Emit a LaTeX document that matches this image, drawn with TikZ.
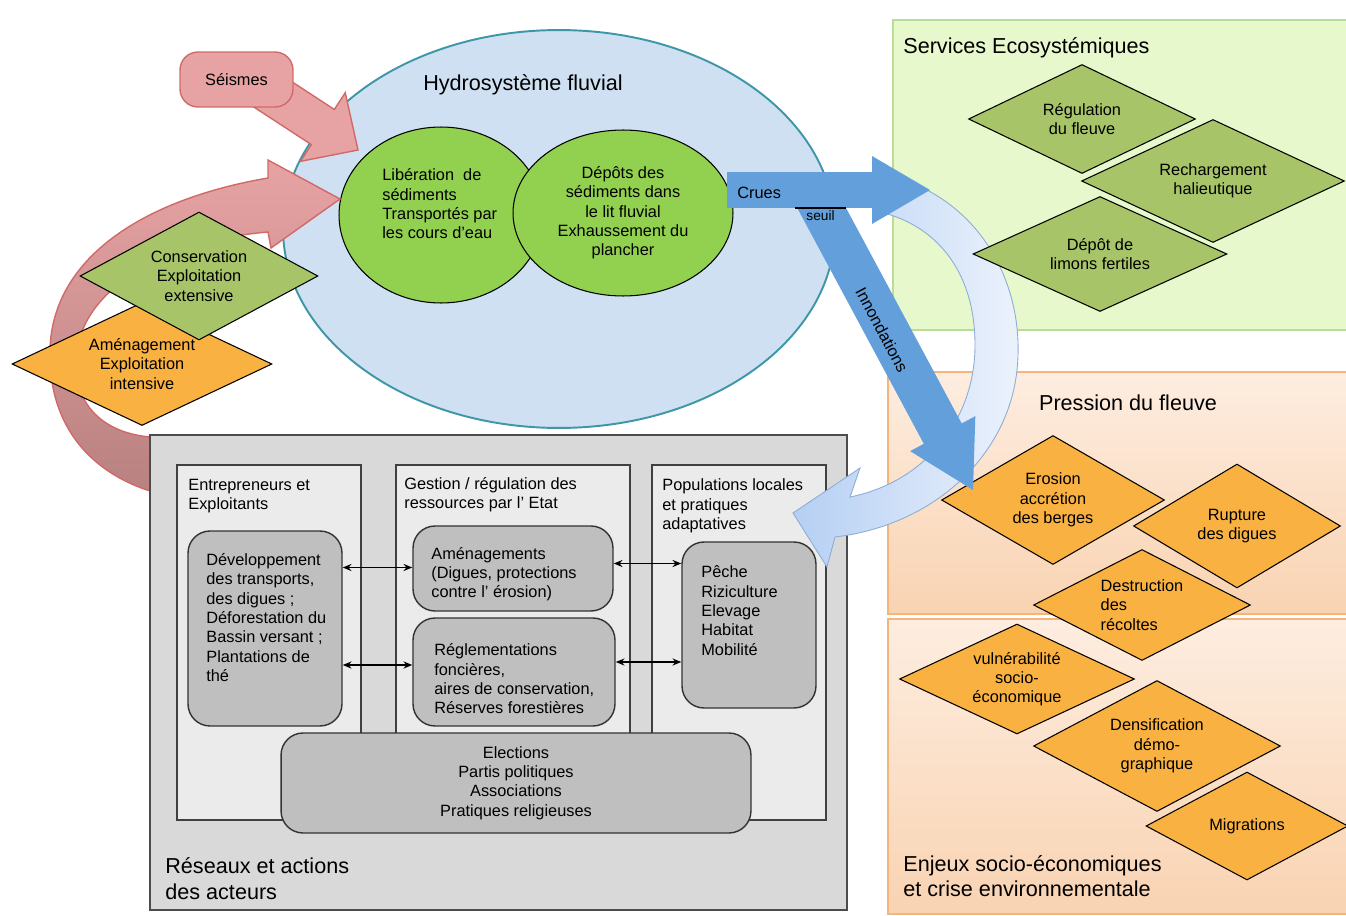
\documentclass[tikz,border=0pt]{standalone}
\usepackage{fontspec}
\setmainfont{Liberation Sans}
\usetikzlibrary{calc, shapes.geometric, arrows.meta}

\definecolor{hydroFill}{HTML}{CFE0F2}
\definecolor{hydroLine}{HTML}{3E97A8}
\definecolor{sedGreen}{HTML}{92D050}
\definecolor{servGreen}{HTML}{A7C468}
\definecolor{servPanel}{HTML}{E6F8CC}
\definecolor{servLine}{HTML}{BBDC96}
\definecolor{pressOrange}{HTML}{F9B142}
\definecolor{pressTop}{HTML}{FDEDE0}
\definecolor{pressBot}{HTML}{F9D3B2}
\definecolor{pressLine}{HTML}{F5B57A}
\definecolor{redFill}{HTML}{E7A3A3}
\definecolor{redDark}{HTML}{B98181}
\definecolor{redLine}{HTML}{D26969}
\definecolor{crueBlue}{HTML}{629FDB}
\definecolor{bandLeft}{HTML}{B5CFF3}
\definecolor{bandRight}{HTML}{EDF3FC}
\definecolor{bandLine}{HTML}{8DACD6}
\definecolor{acteurGray}{HTML}{D9D9D9}
\definecolor{colGray}{HTML}{EBEBEB}
\definecolor{pillGray}{HTML}{BFBFBF}

% block arrow: [style]{from}{to}{half shaft}{half head}{head length}
\newcommand{\FatArrow}[6][]{%
    \coordinate (fat-base) at ($(#3)!#6!(#2)$);
    \path[#1] ($(#2)!#4!90:(#3)$) -- ($(fat-base)!#4!90:(#3)$)
        -- ($(fat-base)!#5!90:(#3)$) -- (#3)
        -- ($(fat-base)!#5!-90:(#3)$) -- ($(fat-base)!#4!-90:(#3)$)
        -- ($(#2)!#4!-90:(#3)$) -- cycle;
}

\tikzset{
    txt/.style={font=\fontsize{9.3}{11}\selectfont, inner sep=0pt},
    ttl/.style={font=\fontsize{12.3}{14.5}\selectfont, inner sep=0pt},
    losange/.style={diamond, aspect=2, draw=black, line width=0.6pt, inner sep=0pt, txt, align=center},
    sedim/.style={ellipse, draw=black, fill=sedGreen, line width=0.6pt, inner sep=0pt, txt},
    panel/.style={draw, line width=0.8pt, inner sep=0pt},
    colonne/.style={draw=black!75, fill=colGray, line width=0.8pt, inner sep=0pt},
    pill/.style={draw=black!80, fill=pillGray, rounded corners=0.44cm, line width=0.8pt, inner sep=0pt},
    lien/.style={{Stealth[length=5pt,width=4pt]}-{Stealth[length=5pt,width=4pt]}, line width=1.1pt},
    redarrow/.style={fill=redFill, draw=redLine, line width=0.8pt},
    crue/.style={fill=crueBlue},
}

\begin{document}
\begin{tikzpicture}[x=0.02cm, y=-0.02cm]
    \useasboundingbox (0,0) rectangle (1346,916);

    % panneaux de droite
    \node[panel, draw=servLine, fill=servPanel, minimum width=9.18cm, minimum height=6.2cm] (serv) at (1122.5,175) {};
    \node[panel, draw=pressLine, top color=pressTop, bottom color=pressBot, minimum width=9.28cm, minimum height=4.84cm] (press) at (1120,493) {};
    \node[panel, draw=pressLine, top color=pressTop, bottom color=pressBot, minimum width=9.28cm, minimum height=5.9cm] (enjeu) at (1120,766.5) {};
    \node[ttl, anchor=west] (servT) at (903,48) {Services Ecosystémiques};
    \node[ttl] (pressT) at (1128,403) {Pression du fleuve};
    \node[ttl, anchor=west, align=left] (enjeuT) at (903,876) {Enjeux socio-économiques\\et crise environnementale};

    % hydrosysteme
    \node[ellipse, draw=hydroLine, fill=hydroFill, line width=1.1pt, minimum width=11.04cm, minimum height=7.96cm, inner sep=0pt] (hydro) at (559,229) {};
    \node[ttl] (hydroT) at (523,85) {Hydrosystème fluvial};
    \node[sedim, minimum width=4.08cm, minimum height=3.52cm] (liber) at (441,215) {};
    \node[txt, anchor=west, align=left] (liberT) at (382,204) {Libération~ de\\sédiments\\Transportés par\\les cours d’eau};
    \node[sedim, align=center, minimum width=4.4cm, minimum height=3.32cm] (depot) at (623,213) {Dépôts des\\sédiments dans\\le lit fluvial\\Exhaussement du\\plancher};

    % forcages
    \path[draw=redLine, line width=0.8pt, top color=redFill, middle color=redFill, bottom color=redDark]
        (170,493) -- (150,491) .. controls (85,470) and (48,420) .. (50,350)
        .. controls (52,260) and (140,200) .. (268,178)
        -- (268,160) -- (340,199) -- (271,248) -- (268,232)
        .. controls (170,240) and (90,285) .. (78,345)
        .. controls (68,395) and (95,432) .. (150,437) -- (170,437) -- cycle;
    \coordinate (seisA) at (260,86);
    \coordinate (seisB) at (358,150);
    \FatArrow[redarrow]{seisA}{seisB}{0.42cm}{0.82cm}{0.84cm}
    \node[txt, draw=redLine, fill=redFill, line width=0.8pt, rounded corners=0.36cm, minimum width=2.26cm, minimum height=1.1cm] (seis) at (236.5,79.5) {Séismes};

    % reseaux et actions des acteurs
    \node[panel, draw=black!70, fill=acteurGray, minimum width=13.94cm, minimum height=9.5cm] (reseau) at (498.5,672.5) {};
    \node[ttl, anchor=west, align=left] (reseauT) at (165,878.5) {Réseaux et actions\\des acteurs};
    \node[colonne, minimum width=3.68cm, minimum height=7.1cm] (entre) at (269,642.5) {};
    \node[colonne, minimum width=4.68cm, minimum height=7.1cm] (gest) at (513,642.5) {};
    \node[colonne, minimum width=3.48cm, minimum height=7.1cm] (popu) at (739,642.5) {};
    \node[txt, anchor=west, align=left] (entreT) at (188,496) {Entrepreneurs et\\Exploitants};
    \node[txt, anchor=west, align=left] (gestT) at (404,494.5) {Gestion / régulation des\\ressources par l’ Etat};
    \node[txt, anchor=west, align=left] (popuT) at (662,506) {Populations locales\\et pratiques\\adaptatives};
    \node[pill, minimum width=3.08cm, minimum height=3.9cm] (dev) at (265,628.5) {};
    \node[pill, minimum width=4cm, minimum height=1.7cm] (ame) at (513,568.5) {};
    \node[pill, minimum width=4.04cm, minimum height=2.16cm] (regl) at (514,672) {};
    \node[pill, minimum width=2.68cm, minimum height=3.32cm] (peche) at (749,625) {};
    \node[txt, anchor=west, align=left] (devT) at (206,617.5) {Développement\\des transports,\\des digues ;\\Déforestation du\\Bassin versant ;\\Plantations de\\thé};
    \node[txt, anchor=west, align=left] (ameT) at (431,574) {Aménagements\\(Digues, protections\\contre l’ érosion)};
    \node[txt, anchor=west, align=left] (reglT) at (434,679) {Réglementations\\foncières,\\aires de conservation,\\Réserves forestières};
    \node[txt, anchor=west, align=left] (pecheT) at (701,610.5) {Pêche\\Riziculture\\Elevage\\Habitat\\Mobilité};
    \node[pill, txt, align=center, minimum width=9.4cm, minimum height=2cm] (elec) at (516,783) {Elections\\Partis politiques\\Associations\\Pratiques religieuses};
    \coordinate (lienG1) at ($(ame.west)+(0,-1)$);
    \coordinate (lienG2) at ($(regl.west)+(0,-7)$);
    \coordinate (lienD1) at ($(ame.east)+(0,-5)$);
    \coordinate (lienD2) at ($(regl.east)+(0,-10)$);
    \draw[lien] (dev.east |- lienG1) -- (lienG1);
    \draw[lien] (dev.east |- lienG2) -- (lienG2);
    \draw[lien] (lienD1) -- (peche.west |- lienD1);
    \draw[lien] (lienD2) -- (peche.west |- lienD2);

    % modes d'exploitation
    \node[losange, fill=pressOrange, minimum width=5.2cm, minimum height=2.46cm] (amen) at (142,364) {Aménagement\\Exploitation\\intensive};
    \node[losange, fill=servGreen, minimum width=4.76cm, minimum height=2.56cm] (cons) at (199,276) {Conservation\\Exploitation\\extensive};

    % retour vers les populations
    \path[draw=bandLine, line width=0.5pt, left color=bandLeft, right color=bandRight]
        (912,183) .. controls (990,215) and (1025,295) .. (1017,370)
        .. controls (1008,455) and (935,525) .. (835,537)
        -- (827,567) -- (793,513) -- (860,468) -- (850,497)
        .. controls (925,482) and (975,420) .. (975,345)
        .. controls (975,270) and (935,225) .. (880,212) -- cycle;

    % services et pressions
    \node[losange, fill=servGreen, minimum width=4.54cm, minimum height=2.18cm] (regul) at (1082,119) {Régulation\\du fleuve};
    \node[losange, fill=servGreen, minimum width=5.26cm, minimum height=2.46cm] (recharg) at (1213,181) {Rechargement\\halieutique};
    \node[losange, fill=servGreen, minimum width=5.08cm, minimum height=2.3cm] (limon) at (1100,254) {Dépôt de\\limons fertiles};
    \node[losange, fill=pressOrange, minimum width=4.46cm, minimum height=2.58cm] (eros) at (1053,500) {Erosion\\accrétion\\des berges};
    \node[losange, fill=pressOrange, minimum width=4.14cm, minimum height=2.48cm] (rupt) at (1237,526) {Rupture\\des digues};
    \node[losange, fill=pressOrange, align=left, minimum width=4.34cm, minimum height=2.22cm] (destr) at (1142,605) {Destruction\\des\\récoltes};
    \node[losange, fill=pressOrange, minimum width=4.7cm, minimum height=2.2cm] (vuln) at (1017,679) {vulnérabilité\\socio-\\économique};
    \node[losange, fill=pressOrange, minimum width=4.94cm, minimum height=2.62cm] (dens) at (1157,746) {Densification\\démo-\\graphique};
    \node[losange, fill=pressOrange, minimum width=4.04cm, minimum height=2.16cm] (migr) at (1247,826) {Migrations};

    % crues et innondations
    \coordinate (innA) at (812,190);
    \coordinate (innB) at (973,490);
    \FatArrow[crue]{innA}{innB}{0.43cm}{0.74cm}{1.28cm}
    \coordinate (crueA) at (727,190);
    \coordinate (crueB) at (930,190);
    \FatArrow[crue]{crueA}{crueB}{0.36cm}{0.68cm}{1.16cm}
    \node[txt, anchor=west] (crueT) at (737,193) {Crues};
    \node[txt, rotate=-62] (innT) at (882,330) {Innondations};
    \coordinate (seuilA) at (795,208);
    \coordinate (seuilB) at (846,208);
    \draw[line width=1.2pt] (seuilA) -- (seuilB) node[midway, below=1pt, inner sep=0pt, font=\fontsize{7.8}{9}\selectfont] (seuilT) {seuil};
\end{tikzpicture}
\end{document}
